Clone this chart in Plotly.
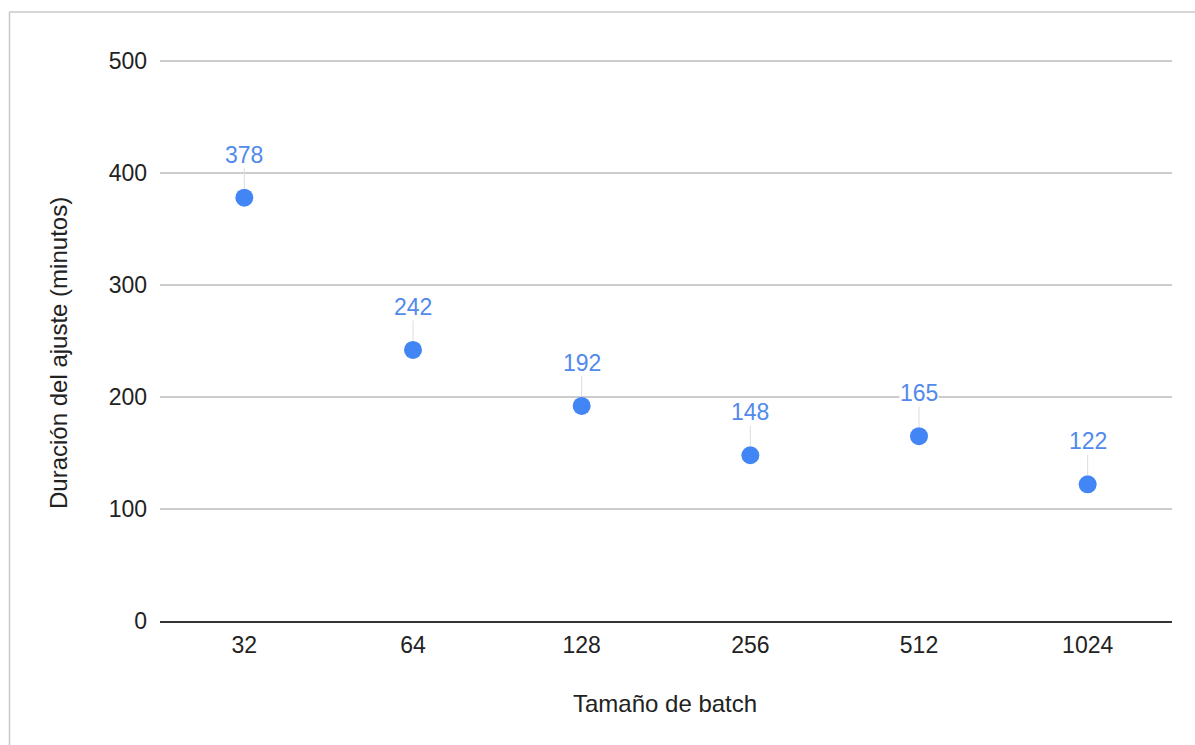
import plotly.graph_objects as go

# Batch sizes (categorical) and fine-tuning duration in minutes
batch_sizes = ["32", "64", "128", "256", "512", "1024"]
durations = [378, 242, 192, 148, 165, 122]
y_ticks = [0, 100, 200, 300, 400, 500]

FONT = "Arial, 'Liberation Sans', sans-serif"
FS = 23
BLUE = "#4285f4"
LABEL_BLUE = "#5189ec"
TEXT = "#222222"

W, H = 1195, 745
ML, MR, MT, MB = 160, 23, 57, 124
PW, PH = W - ML - MR, H - MT - MB
Y_MAX = 500 + 4 / 1.12  # a little headroom so the 500 gridline is drawn

fig = go.Figure()
fig.add_trace(go.Scatter(
    x=batch_sizes,
    y=durations,
    mode="markers",
    marker=dict(size=18, color=BLUE, line=dict(width=0)),
    hoverinfo="x+y",
    showlegend=False,
))

# Value labels above each point with a thin leader line
# (category axes place annotations by category index)
annotations = []
for i, yv in enumerate(durations):
    annotations.append(dict(
        x=i, y=yv, xref="x", yref="y",
        text=str(yv),
        showarrow=True, arrowhead=0, arrowwidth=1, arrowcolor="#dcdcdc",
        ax=0, ay=-43, standoff=9, startstandoff=0,
        font=dict(family=FONT, size=FS, color=LABEL_BLUE),
        bgcolor="white", borderpad=0,
    ))

# Axis titles
annotations.append(dict(
    text="Tamaño de batch", xref="paper", yref="paper",
    x=(665 - ML) / PW, y=-(703 - (H - MB)) / PH,
    showarrow=False, font=dict(family=FONT, size=24, color=TEXT),
    xanchor="center", yanchor="middle",
))
annotations.append(dict(
    text="Duración del ajuste (minutos)", xref="paper", yref="paper",
    x=(58 - ML) / PW, y=(H - MB - 353) / PH, textangle=-90,
    showarrow=False, font=dict(family=FONT, size=24, color=TEXT),
    xanchor="center", yanchor="middle",
))

# Chart frame: left and top edges
left_x = (9.5 - ML) / PW
top_y = (H - MB - 12) / PH
shapes = [
    dict(type="line", xref="paper", yref="paper", x0=left_x, x1=left_x,
         y0=-MB / PH - 0.01, y1=top_y, line=dict(color="#c8c8c8", width=1.5)),
    dict(type="line", xref="paper", yref="paper", x0=left_x, x1=(W - ML) / PW + 0.01,
         y0=top_y, y1=top_y, line=dict(color="#c8c8c8", width=1.5)),
]

fig.update_layout(
    width=W, height=H,
    margin=dict(l=ML, r=MR, t=MT, b=MB),
    paper_bgcolor="white", plot_bgcolor="white",
    font=dict(family=FONT, size=FS, color=TEXT),
    annotations=annotations,
    shapes=shapes,
    xaxis=dict(
        type="category", range=[-0.5, 5.5],
        showgrid=False, zeroline=False,
        showline=True, linecolor="#333333", linewidth=2,
        ticks="", ticklabelstandoff=2,
        tickfont=dict(family=FONT, size=FS, color=TEXT),
        fixedrange=True,
    ),
    yaxis=dict(
        range=[0, Y_MAX], tickvals=y_ticks,
        showgrid=True, gridcolor="#cccccc", gridwidth=1.5,
        zeroline=False, showline=False,
        ticks="", ticklabelstandoff=12,
        tickfont=dict(family=FONT, size=FS, color=TEXT),
        fixedrange=True,
    ),
)

fig.write_html("out.html")
